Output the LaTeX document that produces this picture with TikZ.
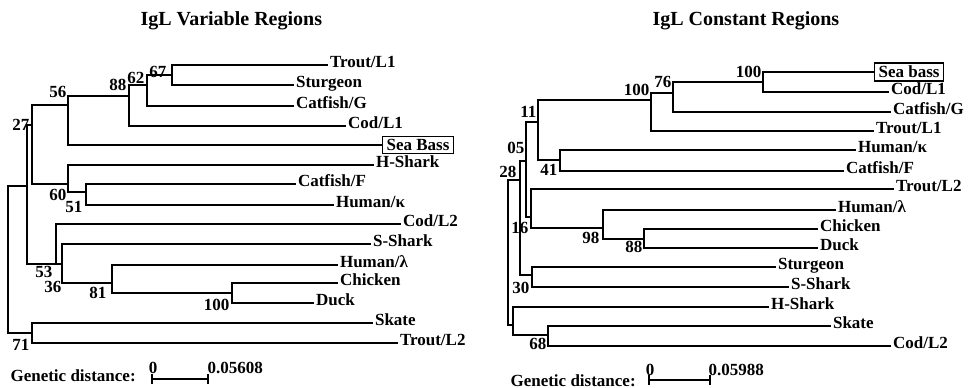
\documentclass[tikz,border=0pt]{standalone}
\usepackage{fontspec}
\setmainfont{Liberation Serif}
\begin{document}
\begin{tikzpicture}[x=1pt,y=-1pt,line width=1.1pt,
  lf/.style={anchor=mid west,inner xsep=2.5pt,inner ysep=0pt,font=\fontsize{17}{17}\selectfont\bfseries},
  boxed/.style={draw,anchor=west,inner xsep=4pt,inner ysep=3pt,font=\fontsize{17}{17}\selectfont\bfseries},
  bsv/.style={anchor=base east,inner sep=0pt,font=\fontsize{17}{17}\selectfont\bfseries},
  ttl/.style={anchor=base west,inner sep=0pt,font=\fontsize{20}{20}\selectfont\bfseries},
  gd/.style={anchor=base west,inner sep=0pt,font=\fontsize{17}{17}\selectfont\bfseries},
  edge/.style={draw,line cap=rect}]
\useasboundingbox (0,0) rectangle (972,388);

% ---------- titles ----------
\node[ttl] (t1) at (140,25) {IgL Variable Regions};
\node[ttl] (t2) at (652,25) {IgL Constant Regions};

% ---------- left tree: internal nodes ----------
\coordinate (R1) at (8,260);
\coordinate (A) at (27,186);
\coordinate (B) at (32,125);
\coordinate (n56) at (68,105);
\coordinate (n88) at (129,96);
\coordinate (n62) at (147,85);
\coordinate (n67) at (172,75);
\coordinate (n60) at (68,184);
\coordinate (n51) at (86,192);
\coordinate (n53) at (56,264);
\coordinate (n36) at (62,264);
\coordinate (n81) at (112,283);
\coordinate (n100) at (232,293);
\coordinate (n71) at (32,333);

% ---------- left tree: leaves ----------
\node[lf] (lTrL1) at (327,65) {Trout/L1};
\node[lf] (lStur) at (293,85) {Sturgeon};
\node[lf] (lCatG) at (293,106) {Catfish/G};
\node[lf] (lCodL1) at (345,126) {Cod/L1};
\node[boxed] (lSB) at (382,145) {Sea Bass};
\node[lf] (lHSh) at (373,165) {H-Shark};
\node[lf] (lCatF) at (295,184) {Catfish/F};
\node[lf] (lHumk) at (333,205) {Human/κ};
\node[lf] (lCodL2) at (400,224) {Cod/L2};
\node[lf] (lSSh) at (370,244) {S-Shark};
\node[lf] (lHuml) at (337,265) {Human/λ};
\node[lf] (lChick) at (337,283) {Chicken};
\node[lf] (lDuck) at (313,303) {Duck};
\node[lf] (lSkate) at (372,323) {Skate};
\node[lf] (lTrL2) at (397,343) {Trout/L2};

% ---------- left tree: branches ----------
\path[edge] (R1) |- (A);
\path[edge] (R1) |- (n71);
\path[edge] (A) |- (B);
\path[edge] (A) |- (n53);
\path[edge] (B) |- (n56);
\path[edge] (B) |- (n60);
\path[edge] (n56) |- (n88);
\path[edge] (n56) |- (lSB.west);
\path[edge] (n88) |- (n62);
\path[edge] (n88) |- (lCodL1.mid west);
\path[edge] (n62) |- (n67);
\path[edge] (n62) |- (lCatG.mid west);
\path[edge] (n67) |- (lTrL1.mid west);
\path[edge] (n67) |- (lStur.mid west);
\path[edge] (n60) |- (lHSh.mid west);
\path[edge] (n60) |- (n51);
\path[edge] (n51) |- (lCatF.mid west);
\path[edge] (n51) |- (lHumk.mid west);
\path[edge] (n53) |- (lCodL2.mid west);
\path[edge] (n53) |- (n36);
\path[edge] (n36) |- (lSSh.mid west);
\path[edge] (n36) |- (n81);
\path[edge] (n81) |- (lHuml.mid west);
\path[edge] (n81) |- (n100);
\path[edge] (n100) |- (lChick.mid west);
\path[edge] (n100) |- (lDuck.mid west);
\path[edge] (n71) |- (lSkate.mid west);
\path[edge] (n71) |- (lTrL2.mid west);

% ---------- left tree: bootstrap values ----------
\node[bsv] (b67) at (167,77) {67};
\node[bsv] (b62) at (145,83) {62};
\node[bsv] (b88) at (127,90) {88};
\node[bsv] (b56) at (67,97) {56};
\node[bsv] (b27) at (30,130) {27};
\node[bsv] (b60) at (67,200) {60};
\node[bsv] (b51) at (83,212) {51};
\node[bsv] (b53) at (53,277) {53};
\node[bsv] (b36) at (62,292) {36};
\node[bsv] (b81) at (107,298) {81};
\node[bsv] (b100) at (230,310) {100};
\node[bsv] (b71) at (30,350) {71};

% ---------- left scale ----------
\node[gd] (gd1) at (10,381) {Genetic distance:};
\coordinate (s1a) at (152,379);
\coordinate (s1b) at (208,379);
\path[edge] (s1a) -- (s1b);
\path[edge] (s1a) ++(0,-4) -- ++(0,8);
\path[edge] (s1b) ++(0,-4) -- ++(0,8);
\node[anchor=base,inner sep=0pt,font=\fontsize{17}{17}\selectfont\bfseries] (z1) at (153,373) {0};
\node[anchor=base west,inner sep=0pt,font=\fontsize{17}{17}\selectfont\bfseries] (d1) at (207,373) {0.05608};

% ---------- right tree: internal nodes ----------
\coordinate (R2) at (508,250);
\coordinate (m28) at (520,180);
\coordinate (m05) at (526,161);
\coordinate (m11) at (538,122);
\coordinate (m100a) at (651,100);
\coordinate (m76) at (673,93);
\coordinate (m100b) at (763,82);
\coordinate (m41) at (560,160);
\coordinate (m16) at (531,217);
\coordinate (m98) at (603,228);
\coordinate (m88) at (644,239);
\coordinate (m30) at (532,275);
\coordinate (mX) at (513,325);
\coordinate (m68) at (548,335);

% ---------- right tree: leaves ----------
\node[boxed] (rSB) at (874,72) {Sea bass};
\node[lf] (rCodL1) at (888,92) {Cod/L1};
\node[lf] (rCatG) at (890,112) {Catfish/G};
\node[lf] (rTrL1) at (873,131) {Trout/L1};
\node[lf] (rHumk) at (855,150) {Human/κ};
\node[lf] (rCatF) at (843,171) {Catfish/F};
\node[lf] (rTrL2) at (893,189) {Trout/L2};
\node[lf] (rHuml) at (835,210) {Human/λ};
\node[lf] (rChick) at (817,229) {Chicken};
\node[lf] (rDuck) at (817,248) {Duck};
\node[lf] (rStur) at (775,267) {Sturgeon};
\node[lf] (rSSh) at (788,287) {S-Shark};
\node[lf] (rHSh) at (768,307) {H-Shark};
\node[lf] (rSkate) at (830,326) {Skate};
\node[lf] (rCodL2) at (890,346) {Cod/L2};

% ---------- right tree: branches ----------
\path[edge] (R2) |- (m28);
\path[edge] (R2) |- (mX);
\path[edge] (m28) |- (m05);
\path[edge] (m28) |- (m30);
\path[edge] (m05) |- (m11);
\path[edge] (m05) |- (m16);
\path[edge] (m11) |- (m100a);
\path[edge] (m11) |- (m41);
\path[edge] (m100a) |- (m76);
\path[edge] (m100a) |- (rTrL1.mid west);
\path[edge] (m76) |- (m100b);
\path[edge] (m76) |- (rCatG.mid west);
\path[edge] (m100b) |- (rSB.west);
\path[edge] (m100b) |- (rCodL1.mid west);
\path[edge] (m41) |- (rHumk.mid west);
\path[edge] (m41) |- (rCatF.mid west);
\path[edge] (m16) |- (rTrL2.mid west);
\path[edge] (m16) |- (m98);
\path[edge] (m98) |- (rHuml.mid west);
\path[edge] (m98) |- (m88);
\path[edge] (m88) |- (rChick.mid west);
\path[edge] (m88) |- (rDuck.mid west);
\path[edge] (m30) |- (rStur.mid west);
\path[edge] (m30) |- (rSSh.mid west);
\path[edge] (mX) |- (rHSh.mid west);
\path[edge] (mX) |- (m68);
\path[edge] (m68) |- (rSkate.mid west);
\path[edge] (m68) |- (rCodL2.mid west);

% ---------- right tree: bootstrap values ----------
\node[bsv] (c76) at (672,87) {76};
\node[bsv] (c100a) at (650,95) {100};
\node[bsv] (c100b) at (762,77) {100};
\node[bsv] (c11) at (537,117) {11};
\node[bsv] (c05) at (525,153) {05};
\node[bsv] (c41) at (558,175) {41};
\node[bsv] (c28) at (517,177) {28};
\node[bsv] (c16) at (529,233) {16};
\node[bsv] (c98) at (600,243) {98};
\node[bsv] (c88) at (643,252) {88};
\node[bsv] (c30) at (530,293) {30};
\node[bsv] (c68) at (547,349) {68};

% ---------- right scale ----------
\node[gd] (gd2) at (510,386) {Genetic distance:};
\coordinate (s2a) at (649,380);
\coordinate (s2b) at (710,380);
\path[edge] (s2a) -- (s2b);
\path[edge] (s2a) ++(0,-4) -- ++(0,8);
\path[edge] (s2b) ++(0,-4) -- ++(0,8);
\node[anchor=base,inner sep=0pt,font=\fontsize{17}{17}\selectfont\bfseries] (z2) at (650,375) {0};
\node[anchor=base west,inner sep=0pt,font=\fontsize{17}{17}\selectfont\bfseries] (d2) at (708,375) {0.05988};
\end{tikzpicture}
\end{document}
